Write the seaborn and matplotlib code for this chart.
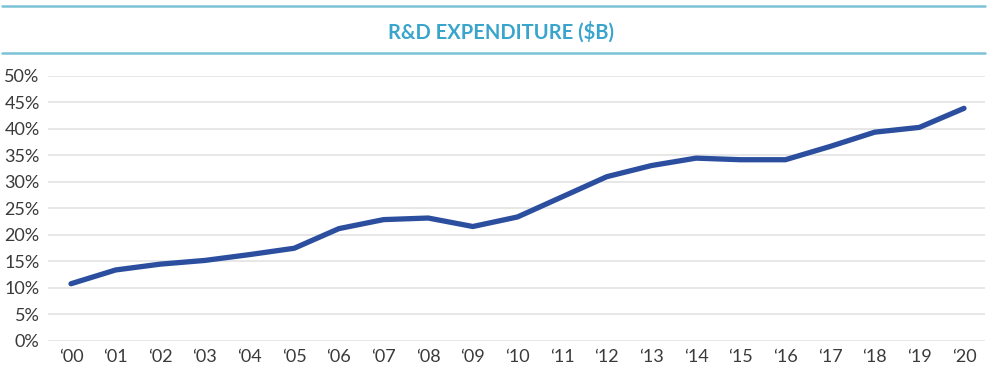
import matplotlib

matplotlib.use('Agg')
import matplotlib.pyplot as plt
from matplotlib.lines import Line2D
from matplotlib.ticker import PercentFormatter
import seaborn as sns
import pandas as pd

# data
years = ['\u201800', '\u201801', '\u201802', '\u201803', '\u201804', '\u201805', '\u201806',
         '\u201807', '\u201808', '\u201809', '\u201810', '\u201811', '\u201812', '\u201813',
         '\u201814', '\u201815', '\u201816', '\u201817', '\u201818', '\u201819', '\u201820']
share = [10.8, 13.4, 14.5, 15.2, 16.3, 17.5, 21.2,
         22.9, 23.2, 21.6, 23.4, 27.2, 31.0, 33.1,
         34.5, 34.2, 34.2, 36.7, 39.4, 40.3, 43.9]
y_ticks = [0, 5, 10, 15, 20, 25, 30, 35, 40, 45, 50]
title = 'R&D EXPENDITURE ($B)'

df = pd.DataFrame({'pos': range(len(years)), 'share': share})

sns.set_theme(style='white')
plt.rcParams['font.family'] = ['Lato', 'DejaVu Sans']

fig = plt.figure(figsize=(10, 3.83), dpi=100)
ax = fig.add_axes([0.048, 0.1097, 0.937, 0.6919])

sns.lineplot(data=df, x='pos', y='share', ax=ax, color='#2b4f9e', linewidth=3.8,
             solid_capstyle='round', solid_joinstyle='round', zorder=3)

ax.set_ylim(0, 50)
ax.set_xlim(-0.515, 20.47)
ax.set_yticks(y_ticks)
ax.yaxis.set_major_formatter(PercentFormatter(decimals=0))
ax.set_xticks(range(len(years)))
ax.set_xticklabels(years)
ax.grid(axis='y', color='#e3e3e3', linewidth=1.2)
ax.grid(axis='x', visible=False)
ax.set_xlabel('')
ax.set_ylabel('')
for s in ax.spines.values():
    s.set_visible(False)
ax.tick_params(axis='both', length=0, labelsize=13, labelcolor='#3a3a3a')
ax.tick_params(axis='y', pad=6)
ax.tick_params(axis='x', pad=6)

# title band with two teal rules
for yy in [1 - 6 / 383, 1 - 53 / 383]:
    fig.add_artist(Line2D([0.002, 0.985], [yy, yy], transform=fig.transFigure,
                          color='#7cc3d8', linewidth=1.8))
fig.text(0.501, 1 - 32 / 383, title, ha='center', va='center', fontsize=14.5,
         fontweight='bold', color='#3aa5cc')

fig.savefig('out.png', dpi=100, facecolor='white')
